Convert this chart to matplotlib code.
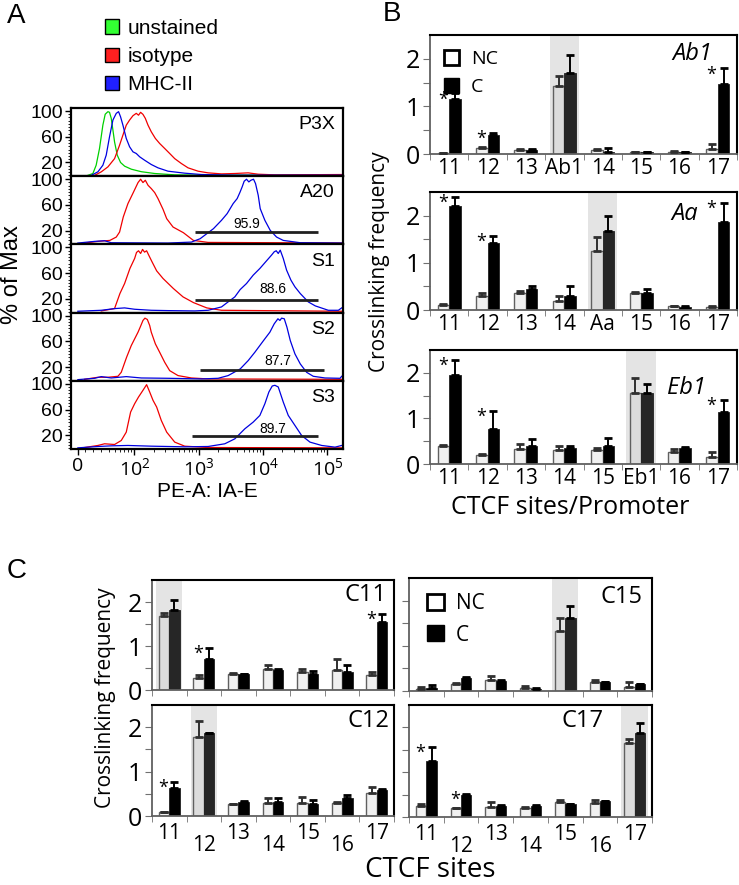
import numpy as np
import matplotlib.pyplot as plt
from matplotlib.patches import Patch
from matplotlib.ticker import MultipleLocator, FixedLocator

plt.rcParams['font.family'] = ['Open Sans', 'DejaVu Sans']
plt.rcParams['mathtext.fontset'] = 'custom'
plt.rcParams['mathtext.rm'] = 'Liberation Sans'

W, H = 739, 885
ARIAL = 'Liberation Sans'

# ---------------- panel A data (PE-A intensity, % of max) ----------------
hist_names = ['P3X', 'A20', 'S1', 'S2', 'S3']

p3x_unst_x = [13, 19.7, 24, 28.4, 32.4, 35.2, 38.8, 41.1, 43.7, 46.4, 49.2, 54.2, 61, 70.5, 89.5, 128, 207, 424, 1102, 167000]
p3x_unst_y = [0, 2.9, 15.8, 41.8, 78.2, 95, 99, 98, 88.6, 70.4, 52, 31.4, 20, 14.3, 9.6, 5.7, 2.9, 0.8, 0.3, 0.3]

p3x_iso_x = [22, 30.6, 38.8, 49.2, 58.9, 66.4, 74.8, 84.3, 95, 107, 116, 125, 136, 148, 163, 183, 212, 247, 296, 354,
             424, 538, 683, 978, 1400, 2259, 3643, 5876, 8413, 15300, 167000]
p3x_iso_y = [0, 5.5, 13.2, 26, 47, 62.6, 78, 86, 92.7, 96.4, 93.5, 98, 94.8, 88.6, 78, 67.8, 57.4, 49.6, 41.8, 34,
             26, 18.4, 11.7, 6.5, 3.9, 2.3, 2.9, 3.9, 1.8, 0.8, 1.3]

p3x_mhc_x = [17.5, 26.3, 32.4, 36.5, 41.1, 46.4, 52.3, 56.8, 61, 66.4, 74.8, 84.3, 95, 107, 121, 144, 183, 233, 333,
             606, 1102, 3643, 167000]
p3x_mhc_y = [0, 5.5, 15.8, 31.4, 60, 86, 96.4, 99, 91, 78, 57.4, 44.4, 36.6, 34, 28.8, 23.6, 16.9, 11.7, 6.5,
             3.4, 1.3, 0.3, 0.3]

a20_iso_x = [8.8, 26.3, 41.6, 52.3, 58.9, 67.2, 79.4, 96.1, 114, 125, 136, 148, 163, 183, 207, 233, 279, 318, 399,
             578, 827, 1400, 167000]
a20_iso_y = [0.8, 3.4, 4.9, 10.1, 17.9, 41.3, 62.1, 79.2, 94.8, 100, 94.8, 98.4, 90.6, 85.5, 79.2, 69.9, 53.2, 38.7,
             25.7, 16.9, 4.9, 1.8, 0.8]

a20_mhc_x = [0, 22, 34.4, 43.7, 333, 770, 1051, 1694, 2259, 2766, 3431, 3960, 4359, 4737, 5091, 5535, 6018, 6467,
             7117, 7647, 8413, 9037, 10684, 12940, 16240, 20622, 37940, 167000]
a20_mhc_y = [0.8, 3.4, 4.4, 1.3, 0.8, 2.3, 7.5, 23.1, 36.1, 46.5, 62.1, 69.9, 79.2, 88.1, 96.9, 100, 95.8, 98.4,
             100, 93.2, 75.1, 54.3, 36.1, 20.5, 10.1, 4.9, 1.3, 0.8]

s1_iso_x = [30.6, 49.2, 59.6, 70.5, 85.3, 101, 108, 116, 125, 134, 144, 155, 167, 188, 222, 279, 404, 571, 827,
            1335, 2259, 167000]
s1_iso_y = [1.3, 5, 28.3, 43.9, 67.3, 82.9, 92.2, 94.8, 90.6, 96.9, 92.7, 94.8, 88.1, 77.7, 63.6, 51.7, 36.1, 23.1,
            14.3, 6, 2.3, 0.8]

s1_mhc_x = [0, 30.6, 49.2, 70.5, 101, 183, 333, 868, 1400, 2259, 2734, 3643, 4410, 5535, 7033, 8929, 11340, 13570,
            14930, 16040, 17238, 18520, 20622, 23240, 27150, 31336, 37940, 50556, 64960, 103560, 148230, 167000]
s1_mhc_y = [0.8, 2.3, 4.9, 6, 3.9, 2.3, 1.8, 1.3, 2.3, 7.5, 13.8, 23.1, 34.5, 43.9, 56.9, 67.3, 79.2, 88.1,
            93.2, 94.8, 90.6, 95.8, 82.9, 64.7, 49.1, 38.7, 28.3, 15.3, 9.1, 2.3, 2.3, 6]

s2_iso_x = [8.8, 26.3, 38.8, 55.5, 62.5, 75.7, 89.5, 101, 114, 125, 136, 146, 159, 173, 183, 212, 250, 296, 354,
            477, 770, 1400, 167000]
s2_iso_y = [1, 4.2, 4.2, 5.7, 11.9, 35.3, 53.5, 63.9, 74.3, 83.6, 92.5, 96.1, 94, 84.7, 74.3, 56.1, 42.1, 27.5,
            14.5, 6.8, 3.1, 1.6, 1]

s2_mhc_x = [0, 22, 30.6, 43.7, 74.8, 128, 333, 1102, 2004, 2868, 4410, 5876, 7465, 10190, 12785, 14930, 17030,
            18300, 19430, 21380, 23520, 26510, 31336, 37940, 47610, 60450, 91900, 157380, 167000]
s2_mhc_y = [0.5, 2.6, 5.2, 3.1, 5.2, 3.1, 2.6, 1.6, 2.6, 6.8, 17.1, 30.1, 43.1, 61.3, 74.3, 87.3, 95.1,
            92.5, 96.1, 95.1, 82.1, 61.3, 40.5, 24.9, 11.9, 5.7, 3.1, 2.6, 5.7]

s3_iso_x = [8.8, 26.3, 34.4, 49.2, 62.5, 74.8, 87.4, 101, 116, 136, 155, 173, 195, 222, 262, 318, 424, 606,
            1400, 167000]
s3_iso_y = [1, 4.2, 6.8, 5.7, 11.9, 24.9, 56.1, 69.1, 79.5, 89.9, 98.7, 87.3, 74.3, 63.9, 43.1, 24.9, 9.4, 3.1,
            1, 0.5]

s3_mhc_x = [0, 26.3, 43.7, 79.4, 183, 606, 1400, 2545, 3643, 5214, 7033, 8929, 10684, 12330, 13902, 15295, 17238,
            20622, 24665, 31336, 39800, 53650, 81550, 131550, 167000]
s3_mhc_y = [0.5, 2.6, 3.6, 4.2, 3.1, 2.1, 2.6, 6.8, 14.5, 30.1, 40.5, 50.9, 69.1, 87.3, 96.6, 97.7, 95.1,
            71.7, 50.9, 35.3, 19.7, 9.4, 4.2, 1.6, 4.2]

# gates on the stained samples (A20, S1, S2, S3)
gate_lo = [868, 868, 1060, 798]
gate_hi = [72360, 72360, 89500, 72200]
gate_level = [18, 18, 15.6, 18.7]
gate_pct = ['95.9', '88.6', '87.7', '89.7']
gate_text_x = [5535, 14400, 16800, 14400]
gate_text_y = [31, 36, 30, 30]

# ---------------- panel B data ----------------
ab1_sites = ['11', '12', '13', 'Ab1', '14', '15', '16', '17']
ab1_nc = [0.02, 0.13, 0.085, 1.42, 0.08, 0.04, 0.05, 0.10]
ab1_nc_err = [0.01, 0.02, 0.02, 0.21, 0.02, 0.01, 0.01, 0.11]
ab1_c = [1.15, 0.39, 0.08, 1.70, 0.05, 0.04, 0.04, 1.47]
ab1_c_err = [0.13, 0.06, 0.02, 0.37, 0.08, 0.01, 0.01, 0.33]

aa_sites = ['11', '12', '13', '14', 'Aa', '15', '16', '17']
aa_nc = [0.11, 0.30, 0.37, 0.20, 1.26, 0.37, 0.08, 0.07]
aa_nc_err = [0.01, 0.07, 0.03, 0.10, 0.28, 0.01, 0.01, 0.01]
aa_c = [2.21, 1.43, 0.44, 0.30, 1.67, 0.37, 0.07, 1.87]
aa_c_err = [0.19, 0.14, 0.06, 0.20, 0.32, 0.08, 0.02, 0.40]

eb1_sites = ['11', '12', '13', '14', '15', 'Eb1', '16', '17']
eb1_nc = [0.39, 0.20, 0.33, 0.31, 0.31, 1.55, 0.27, 0.15]
eb1_nc_err = [0.02, 0.01, 0.11, 0.09, 0.04, 0.33, 0.05, 0.11]
eb1_c = [1.96, 0.77, 0.40, 0.35, 0.39, 1.55, 0.34, 1.14]
eb1_c_err = [0.32, 0.40, 0.15, 0.05, 0.18, 0.21, 0.03, 0.27]

# ---------------- panel C data ----------------
ctcf_sites = ['11', '12', '13', '14', '15', '16', '17']
c11_nc = [1.69, 0.27, 0.37, 0.48, 0.42, 0.46, 0.34]
c11_nc_err = [0.05, 0.07, 0.01, 0.08, 0.05, 0.24, 0.08]
c11_c = [1.82, 0.70, 0.37, 0.46, 0.37, 0.42, 1.54]
c11_c_err = [0.23, 0.25, 0.0, 0.02, 0.07, 0.15, 0.19]

c15_nc = [0.04, 0.15, 0.24, 0.07, 1.33, 0.21, 0.09]
c15_nc_err = [0.05, 0.03, 0.09, 0.03, 0.29, 0.03, 0.10]
c15_c = [0.07, 0.29, 0.22, 0.05, 1.61, 0.20, 0.15]
c15_c_err = [0.06, 0.01, 0.03, 0.01, 0.26, 0.0, 0.01]

c12_nc = [0.09, 1.78, 0.27, 0.30, 0.30, 0.30, 0.51]
c12_nc_err = [0.01, 0.36, 0.01, 0.11, 0.12, 0.01, 0.15]
c12_c = [0.64, 1.87, 0.32, 0.32, 0.26, 0.40, 0.58]
c12_c_err = [0.13, 0.01, 0.01, 0.09, 0.10, 0.08, 0.02]

c17_nc = [0.24, 0.19, 0.22, 0.20, 0.33, 0.31, 1.66]
c17_nc_err = [0.06, 0.02, 0.11, 0.02, 0.06, 0.06, 0.09]
c17_c = [1.25, 0.50, 0.25, 0.25, 0.28, 0.35, 1.88]
c17_c_err = [0.32, 0.01, 0.01, 0.01, 0.0, 0.0, 0.22]

GREEN, RED, BLUE = '#00d000', '#f00000', '#0000e0'


def px_rect(l, t, r, b):
    return [l / W, 1 - b / H, (r - l) / W, (b - t) / H]


fig = plt.figure(figsize=(W / 100, H / 100), dpi=100)

# ================= A =================
hists = [
    [(p3x_unst_x, p3x_unst_y, GREEN), (p3x_iso_x, p3x_iso_y, RED), (p3x_mhc_x, p3x_mhc_y, BLUE)],
    [(a20_iso_x, a20_iso_y, RED), (a20_mhc_x, a20_mhc_y, BLUE)],
    [(s1_iso_x, s1_iso_y, RED), (s1_mhc_x, s1_mhc_y, BLUE)],
    [(s2_iso_x, s2_iso_y, RED), (s2_mhc_x, s2_mhc_y, BLUE)],
    [(s3_iso_x, s3_iso_y, RED), (s3_mhc_x, s3_mhc_y, BLUE)],
]
minor_x = [10, 20] + [k * 10 ** e for e in (1, 2, 3, 4) for k in range(2, 10) if 30 <= k * 10 ** e] + [2e5]
for i, name in enumerate(hist_names):
    top = 108 + 68.2 * i
    ax = fig.add_axes(px_rect(71, top, 343, top + 68.2))
    ax.set_xscale('symlog', linthresh=30, linscale=0.32)
    for xs, ys, col in hists[i]:
        ax.plot(xs, ys, color=col, lw=0.9)
    if i > 0:
        g = i - 1
        ax.hlines(gate_level[g], gate_lo[g], gate_hi[g], color='#202020', lw=2)
        ax.text(gate_text_x[g], gate_text_y[g], gate_pct[g], ha='center', va='center',
                fontsize=10, family=ARIAL)
    ax.text(0.97, 0.88, name, transform=ax.transAxes, ha='right', va='top', fontsize=14, family=ARIAL)
    ax.set_xlim(-9, 1.75e5)
    ax.set_ylim(-1.3, 104.7)
    ax.set_yticks([20, 60, 100], ['20', '60', '100'], fontsize=14, family=ARIAL)
    ax.yaxis.set_minor_locator(MultipleLocator(5))
    ax.xaxis.set_minor_locator(FixedLocator(minor_x))
    if i == 4:
        ax.set_xticks([0, 1e2, 1e3, 1e4, 1e5],
                      ['0', r'$\mathregular{10^2}$', r'$\mathregular{10^3}$',
                       r'$\mathregular{10^4}$', r'$\mathregular{10^5}$'], fontsize=14)
        ax.set_xlabel('PE-A: IA-E', fontsize=15, family=ARIAL, labelpad=2)
    else:
        ax.set_xticks([0, 1e2, 1e3, 1e4, 1e5], [])
    ax.tick_params(axis='both', which='major', length=4, width=1, pad=2)
    ax.tick_params(axis='both', which='minor', length=2, width=0.6)
    for s in ax.spines.values():
        s.set_linewidth(1.6)

fig.text(12 / W, 1 - 275 / H, '% of Max', rotation=90, ha='center', va='center', fontsize=17, family=ARIAL)
fig.legend(handles=[Patch(fc='#33ff33', ec='black'), Patch(fc='#ff2020', ec='black'), Patch(fc='#2020ff', ec='black')],
           labels=['unstained', 'isotype', 'MHC-II'], loc='upper left', bbox_to_anchor=(86 / W, 1 - 0 / H),
           frameon=False, prop={'family': ARIAL, 'size': 15}, handlelength=0.7, handleheight=0.7,
           labelspacing=0.45, handletextpad=0.4)


# ================= B and C =================
def bar_panel(ax, sites, nc, nc_err, c, c_err, prom, stars):
    x = np.arange(len(sites))
    n = len(sites)
    ax.axvspan(prom - 0.38, prom + 0.38, color='#e4e4e4', lw=0, zorder=0)
    ax.bar(x - 0.15, nc, 0.3, color=['#dcdcdc' if k == prom else '#f0f0f0' for k in range(n)],
           edgecolor='#606060', lw=1, zorder=2)
    ax.bar(x + 0.15, c, 0.3, color=['#262626' if k == prom else 'black' for k in range(n)],
           edgecolor='#202020', lw=0.6, zorder=2)
    ax.errorbar(x - 0.15, nc, yerr=[np.zeros(n), nc_err], fmt='none', ecolor='#303030',
                elinewidth=1.4, capsize=3, capthick=2, zorder=3)
    ax.errorbar(x + 0.15, c, yerr=[np.zeros(n), c_err], fmt='none', ecolor='black',
                elinewidth=1.4, capsize=3, capthick=2, zorder=3)
    for k in stars:
        ax.text(k - 0.17, c[k] + c_err[k] - 0.24, '*', ha='center', va='baseline', fontsize=13)
    ax.set_xlim(-0.5, n - 0.5)
    ax.set_ylim(0, 2.5)
    ax.set_yticks([0, 0.5, 1, 1.5, 2], ['0', '', '1', '', '2'], fontsize=18)
    ax.set_xticks(x)
    ax.xaxis.set_minor_locator(FixedLocator(np.arange(n + 1) - 0.5))
    ax.tick_params(axis='x', which='major', length=0)
    ax.tick_params(axis='x', which='minor', length=4, color='#707070')
    ax.tick_params(axis='y', length=5, color='#707070', pad=2)
    for s in ['top', 'right']:
        ax.spines[s].set_color('black')
        ax.spines[s].set_linewidth(1.5)
    for s in ['left', 'bottom']:
        ax.spines[s].set_color('#606060')
        ax.spines[s].set_linewidth(1.3)


def nc_c_legend(ax, size, anchor):
    ax.legend(handles=[Patch(fc='white', ec='black', lw=2), Patch(fc='black', ec='black')],
              labels=['NC', 'C'], loc='upper left', bbox_to_anchor=anchor, frameon=False,
              fontsize=size, handlelength=0.8, handleheight=0.8, labelspacing=0.5,
              handletextpad=0.6, borderaxespad=0)


b_sets = [
    (ab1_sites, ab1_nc, ab1_nc_err, ab1_c, ab1_c_err, 3, 'Ab1', (35, 154), (0.92, 0.84)),
    (aa_sites, aa_nc, aa_nc_err, aa_c, aa_c_err, 4, 'Aa', (192, 310), (0.873, 0.81)),
    (eb1_sites, eb1_nc, eb1_nc_err, eb1_c, eb1_c_err, 5, 'Eb1', (350, 464), (0.90, 0.67)),
]
for sites, nc, nce, c, ce, prom, name, (t, b), (lx, ly) in b_sets:
    ax = fig.add_axes(px_rect(430, t, 737, b))
    bar_panel(ax, sites, nc, nce, c, ce, prom, [0, 1, 7])
    ax.set_xticklabels(sites, fontsize=15)
    ax.tick_params(axis='x', which='major', pad=3)
    ax.text(lx, ly, name, transform=ax.transAxes, ha='right', va='center', fontsize=17, style='italic')
    if name == 'Ab1':
        nc_c_legend(ax, 14, (0.02, 0.94))

fig.text(380 / W, 1 - 262 / H, 'Crosslinking frequency', rotation=90, ha='center', va='center', fontsize=15)
fig.text(570 / W, 1 - 508 / H, 'CTCF sites/Promoter', ha='center', va='center', fontsize=18)

c_sets = [
    (c11_nc, c11_nc_err, c11_c, c11_c_err, 0, 'C11', (152, 580, 394, 690), (0.97, 0.86), [1, 6]),
    (c15_nc, c15_nc_err, c15_c, c15_c_err, 4, 'C15', (409, 578, 652, 691), (0.96, 0.83), []),
    (c12_nc, c12_nc_err, c12_c, c12_c_err, 1, 'C12', (152, 705, 394, 816), (0.98, 0.86), [0]),
    (c17_nc, c17_nc_err, c17_c, c17_c_err, 6, 'C17', (409, 705, 652, 817), (0.80, 0.86), [0, 1]),
]
for nc, nce, c, ce, prom, name, (l, t, r, b), (lx, ly), stars in c_sets:
    ax = fig.add_axes(px_rect(l, t, r, b))
    bar_panel(ax, ctcf_sites, nc, nce, c, ce, prom, stars)
    if name in ('C12', 'C17'):
        ax.set_xticklabels(ctcf_sites, fontsize=15)
        for k, tk in enumerate(ax.xaxis.get_major_ticks()):
            tk.set_pad(5 if k % 2 == 0 else 14)
    else:
        ax.set_xticklabels([])
    if l > 400:
        ax.set_yticklabels([])
    ax.text(lx, ly, name, transform=ax.transAxes, ha='right', va='center', fontsize=17)
    if name == 'C15':
        nc_c_legend(ax, 15, (0.04, 0.94))

fig.text(105 / W, 1 - 698 / H, 'Crosslinking frequency', rotation=90, ha='center', va='center', fontsize=15)
fig.text(430 / W, 1 - 870 / H, 'CTCF sites', ha='center', va='center', fontsize=20)

fig.text(16 / W, 1 - 16 / H, 'A', ha='center', va='center', fontsize=20, family=ARIAL)
fig.text(392 / W, 1 - 14 / H, 'B', ha='center', va='center', fontsize=20, family=ARIAL)
fig.text(17 / W, 1 - 571 / H, 'C', ha='center', va='center', fontsize=20, family=ARIAL)

fig.savefig('out.png', dpi=100)
